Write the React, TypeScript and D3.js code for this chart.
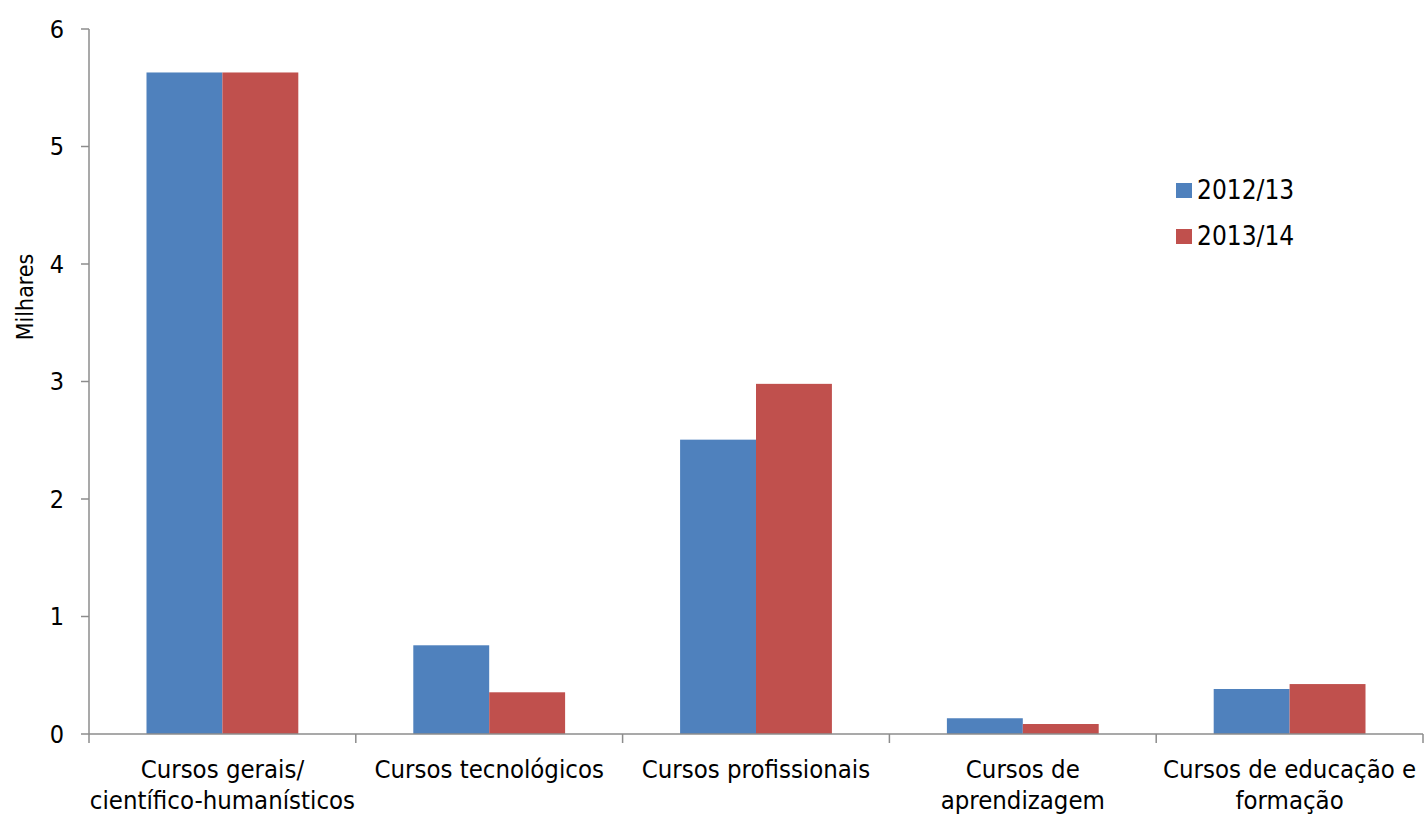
import React from "react";
import * as d3 from "d3";

const categories: string[][] = [
  ["Cursos gerais/", "científico-humanísticos"],
  ["Cursos tecnológicos"],
  ["Cursos profissionais"],
  ["Cursos de", "aprendizagem"],
  ["Cursos de educação e", "formação"],
];
const seriesNames = ["2012/13", "2013/14"];
const values2012 = [5.63, 0.755, 2.505, 0.134, 0.383];
const values2013 = [5.63, 0.355, 2.98, 0.085, 0.425];
const yTicks = [0, 1, 2, 3, 4, 5, 6];
const colors = ["#4F81BD", "#C0504D"];

const W = 1426;
const H = 815;
const left = 89;
const right = 1423;
const top = 29;
const bottom = 734;
const FONT = "'DejaVu Sans Condensed', 'DejaVu Sans', sans-serif";

export default function App() {
  const idx = categories.map((_, i) => String(i));
  const x0 = d3.scaleBand<string>().domain(idx).range([left, right]).padding(0);
  const bw = x0.bandwidth();
  const x1 = d3
    .scaleBand<string>()
    .domain(seriesNames)
    .range([bw * 0.2155, bw * 0.7845])
    .padding(0);
  const y = d3.scaleLinear().domain([0, 6]).range([bottom, top]);
  const series = [values2012, values2013];
  const axisColor = "#8c8c8c";

  return (
    <div style={{ position: "absolute", left: 0, top: 0 }}>
      <svg width={W} height={H} style={{ display: "block" }}>
        <rect width={W} height={H} fill="#fff" />
        {series.map((vals, s) =>
          vals.map((v, i) => (
            <rect
              key={`${s}-${i}`}
              x={(x0(String(i)) as number) + (x1(seriesNames[s]) as number)}
              y={y(v)}
              width={x1.bandwidth()}
              height={y(0) - y(v)}
              fill={colors[s]}
            />
          ))
        )}
        <line x1={left} x2={left} y1={top} y2={bottom} stroke={axisColor} strokeWidth={1.5} />
        {yTicks.map((t) => (
          <g key={t}>
            <line x1={left - 8} x2={left} y1={y(t)} y2={y(t)} stroke={axisColor} strokeWidth={1.5} />
            <text
              x={64}
              y={y(t)}
              textAnchor="end"
              dominantBaseline="central"
              fontFamily={FONT}
              fontSize={25}
              fill="#000"
            >
              {t}
            </text>
          </g>
        ))}
        <line x1={left} x2={right} y1={bottom} y2={bottom} stroke={axisColor} strokeWidth={1.5} />
        {idx.concat([String(categories.length)]).map((k, i) => {
          const xx = i < categories.length ? (x0(k) as number) : right;
          return (
            <line key={k} x1={xx} x2={xx} y1={bottom} y2={bottom + 9} stroke={axisColor} strokeWidth={1.5} />
          );
        })}
        {categories.map((lines, i) => (
          <text
            key={i}
            x={(x0(String(i)) as number) + bw / 2}
            y={778}
            textAnchor="middle"
            fontFamily={FONT}
            fontSize={25.5}
            fill="#000"
          >
            {lines.map((l, j) => (
              <tspan key={j} x={(x0(String(i)) as number) + bw / 2} dy={j === 0 ? 0 : 31}>
                {l}
              </tspan>
            ))}
          </text>
        ))}
        <text
          transform={`translate(33, 297) rotate(-90)`}
          textAnchor="middle"
          fontFamily={FONT}
          fontSize={23}
          fill="#000"
        >
          Milhares
        </text>
        {seriesNames.map((n, s) => (
          <g key={n}>
            <rect x={1176} y={183 + s * 46} width={16} height={15} fill={colors[s]} />
            <text x={1197} y={199 + s * 46} fontFamily={FONT} fontSize={26} fill="#000">
              {n}
            </text>
          </g>
        ))}
      </svg>
    </div>
  );
}
